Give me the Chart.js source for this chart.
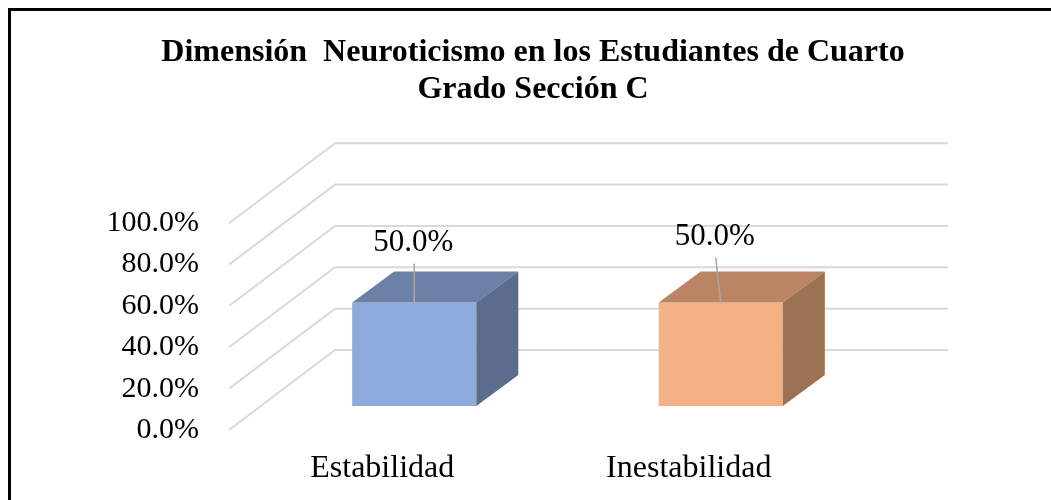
<!DOCTYPE html>
<html>
<head>
<meta charset="utf-8">
<script src="https://cdn.jsdelivr.net/npm/chart.js@4"></script>
<style>
    body { margin: 0; background: #fff; }
    #wrap { position: relative; width: 1051px; height: 500px; overflow: hidden; }
    #frame { position: absolute; left: 8px; top: 8px; width: 1100px; height: 600px; border: 3px solid #000; }
    #chart { position: absolute; left: 0; top: 0; }
</style>
</head>
<body>
<div id="wrap">
    <div id="frame"></div>
    <canvas id="chart" width="1051" height="500"></canvas>
</div>
<script>
const categories = ['Estabilidad', 'Inestabilidad'];
const percentages = [50.0, 50.0];
const titleLines = ['Dimensión  Neuroticismo en los Estudiantes de Cuarto', 'Grado Sección C'];

const frontColors = ['#8FAADC', '#F4B183'];
const topColors = ['#6D80A6', '#B98562'];
const sideColors = ['#5C6C8C', '#9C7352'];

// 3d look
const depthX = 106, depthY = 80;      // floor depth
const barShiftX = 32, barShiftY = 24; // front face of the boxes
const boxX = 42, boxY = 31;           // box depth
const gridRight = 948;
const labelNudge = [[-1, -60, -39], [-6, -66, -45]];

const serif = '"Liberation Serif", "Times New Roman", serif';

const wall3d = {
    id: 'wall3d',
    beforeDatasetsDraw(chart) {
        const ctx = chart.ctx;
        const y = chart.scales.y;
        const left = chart.chartArea.left;
        ctx.save();
        ctx.strokeStyle = '#D9D9D9';
        ctx.lineWidth = 2;
        y.ticks.forEach(t => {
            const py = y.getPixelForValue(t.value);
            ctx.beginPath();
            ctx.moveTo(left, py);
            ctx.lineTo(left + depthX, py - depthY);
            ctx.lineTo(gridRight, py - depthY);
            ctx.stroke();
        });
        ctx.restore();
        ctx.save();
        ctx.translate(barShiftX, -barShiftY);
    },
    afterDatasetsDraw(chart) {
        const ctx = chart.ctx;
        const meta = chart.getDatasetMeta(0);
        meta.data.forEach((bar, i) => {
            const x1 = bar.x - bar.width / 2, x2 = bar.x + bar.width / 2;
            const yt = bar.y, yb = bar.base;
            ctx.fillStyle = topColors[i];
            ctx.beginPath();
            ctx.moveTo(x1, yt);
            ctx.lineTo(x2, yt);
            ctx.lineTo(x2 + boxX, yt - boxY);
            ctx.lineTo(x1 + boxX, yt - boxY);
            ctx.closePath();
            ctx.fill();
            ctx.fillStyle = sideColors[i];
            ctx.beginPath();
            ctx.moveTo(x2, yt);
            ctx.lineTo(x2 + boxX, yt - boxY);
            ctx.lineTo(x2 + boxX, yb - boxY);
            ctx.lineTo(x2, yb);
            ctx.closePath();
            ctx.fill();

            // value label with leader line
            const n = labelNudge[i];
            ctx.strokeStyle = '#A6A6A6';
            ctx.lineWidth = 1.5;
            ctx.beginPath();
            ctx.moveTo(bar.x + n[0] + 1, yt + n[2]);
            ctx.lineTo(bar.x, yt);
            ctx.stroke();
            ctx.fillStyle = '#000';
            ctx.font = '31px ' + serif;
            ctx.textAlign = 'center';
            ctx.textBaseline = 'middle';
            ctx.fillText(percentages[i].toFixed(1) + '%', bar.x + n[0], yt + n[1]);
        });
        ctx.restore();
    }
};

new Chart(document.getElementById('chart'), {
    type: 'bar',
    data: {
        labels: categories,
        datasets: [{
            data: percentages,
            backgroundColor: frontColors,
            borderWidth: 0,
            barPercentage: 0.405,
            categoryPercentage: 1
        }]
    },
    options: {
        responsive: false,
        animation: false,
        layout: { padding: { left: 15, right: 0, top: 0, bottom: 0 } },
        plugins: {
            legend: { display: false },
            tooltip: { enabled: false },
            title: {
                display: true,
                text: titleLines,
                color: '#000',
                font: { family: serif, size: 32, weight: 'bold', lineHeight: 1.16 },
                padding: { top: 34, bottom: 115 }
            }
        },
        scales: {
            x: {
                grid: { display: false, drawTicks: false },
                border: { display: false },
                ticks: { color: '#000', font: { family: serif, size: 32 }, padding: 19 },
                afterFit: s => { s.height = 70; }
            },
            y: {
                position: 'left',
                min: 0,
                max: 100,
                grid: { display: false, drawTicks: false },
                border: { display: false },
                ticks: {
                    stepSize: 20,
                    color: '#000',
                    padding: 30,
                    font: { family: serif, size: 30 },
                    callback: v => v.toFixed(1) + '%'
                },
                afterFit: s => { s.width = 214; }
            },
            y2: {
                position: 'right',
                grid: { display: false, drawTicks: false },
                border: { display: false },
                ticks: { display: false },
                afterFit: s => { s.width = 209; }
            }
        }
    },
    plugins: [wall3d]
});
</script>
</body>
</html>
